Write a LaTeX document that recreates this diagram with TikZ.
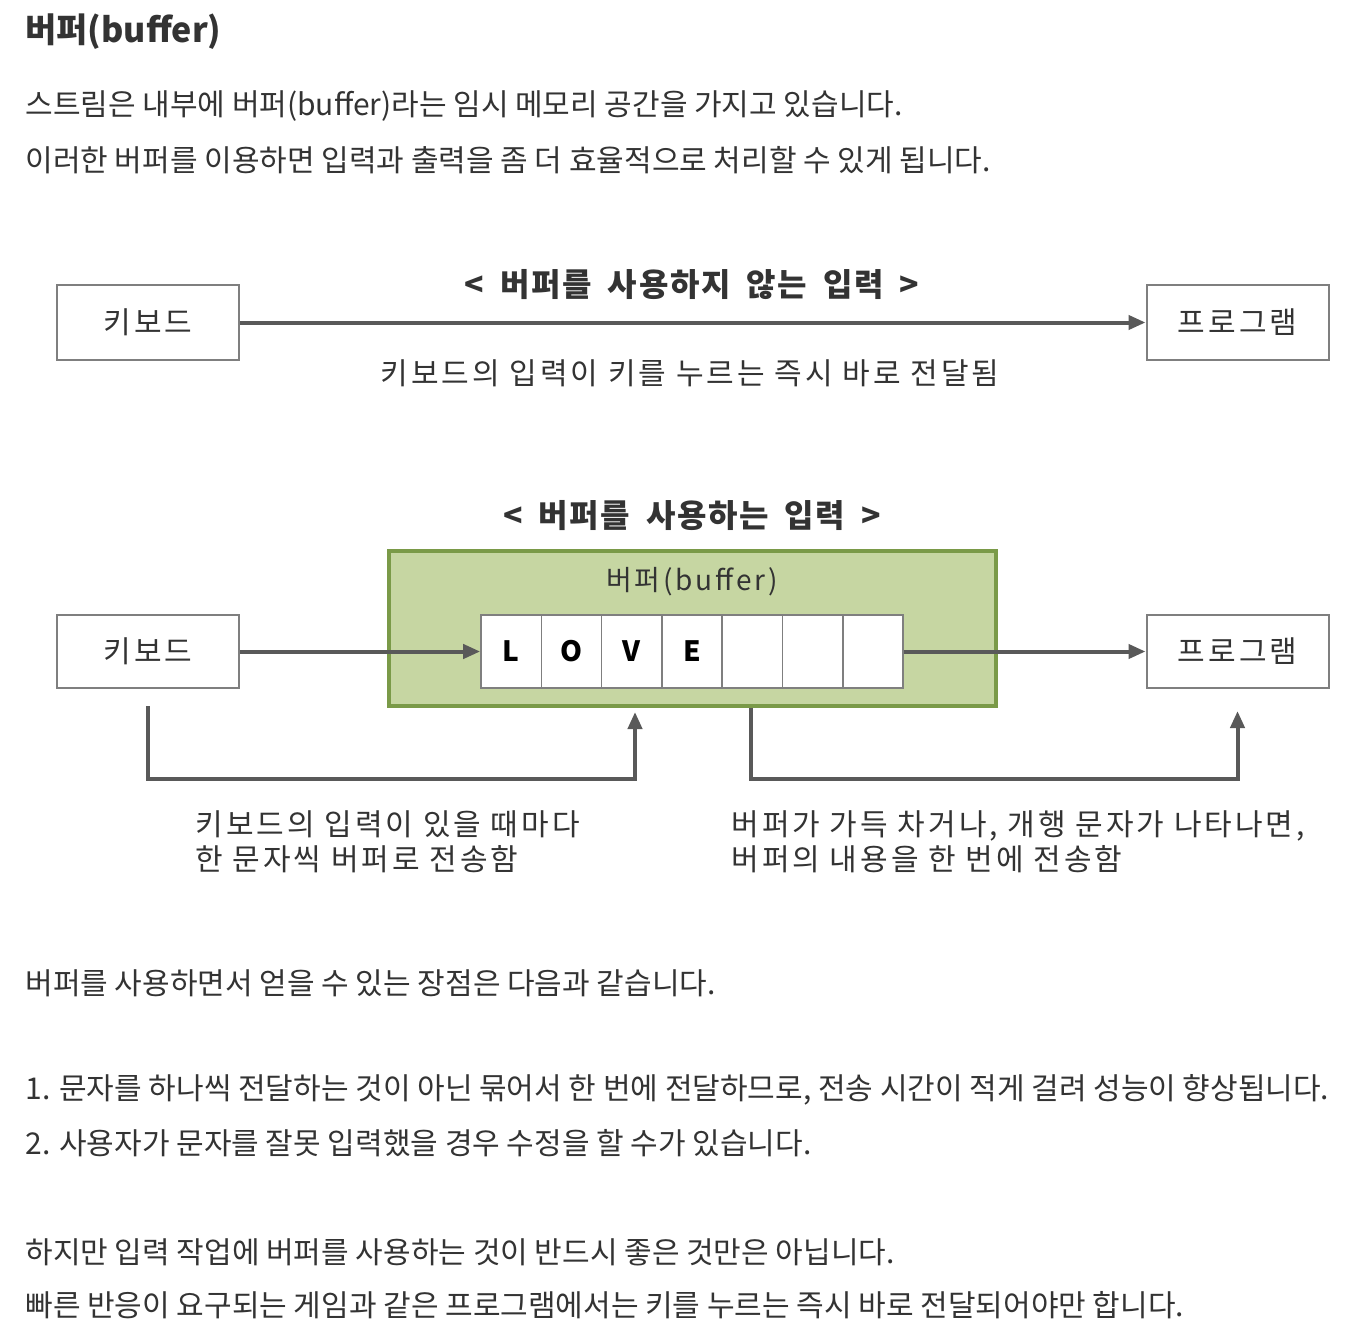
\documentclass[tikz,border=0pt]{standalone}
\usepackage{fontspec}
\setmainfont{Noto Sans CJK KR}
\newfontfamily\diagfont[LetterSpace=10]{Noto Sans CJK KR}
\newfontfamily\capfont[LetterSpace=5, WordSpace=1.8]{Noto Sans CJK KR}
\usetikzlibrary{arrows.meta}
\definecolor{txt}{HTML}{333333}
\definecolor{boxline}{HTML}{7F7F7F}
\definecolor{arrowgray}{HTML}{595959}
\definecolor{buffill}{HTML}{C6D6A2}
\definecolor{bufline}{HTML}{7A9A48}
\begin{document}
\begin{tikzpicture}[x=0.5pt, y=-0.5pt,
  body/.style={anchor=west, inner sep=0pt, text=txt, font=\fontsize{15}{18}\selectfont},
  heading/.style={anchor=west, inner sep=0pt, text=txt, font=\fontsize{17}{20}\selectfont\bfseries},
  caption/.style={inner sep=0pt, text=txt, font=\capfont\fontsize{16}{19}\selectfont\bfseries},
  note/.style={inner sep=0pt, text=txt, font=\diagfont\fontsize{15}{17.5}\selectfont},
  box/.style={draw=boxline, line width=1pt, fill=white, minimum width=91pt, inner sep=0pt, text=txt, font=\diagfont\fontsize{15}{18}\selectfont},
  cellbox/.style={draw=boxline, line width=0.8pt, fill=white, minimum width=30.15pt, minimum height=36.5pt, inner sep=0pt, font=\fontsize{14}{17}\selectfont\bfseries},
  flow/.style={draw=arrowgray, line width=2pt, -{Triangle[length=8.5pt, width=7pt]}},
  link/.style={draw=arrowgray, line width=2pt}]
  \useasboundingbox[fill=white] (0,0) rectangle (1358,1338);
  \node[heading] (title) at (25,32) {버퍼(buffer)};
  \node[body] (line1) at (25,106) {스트림은 내부에 버퍼(buffer)라는 임시 메모리 공간을 가지고 있습니다.};
  \node[body] (line2) at (25,160) {이러한 버퍼를 이용하면 입력과 출력을 좀 더 효율적으로 처리할 수 있게 됩니다.};
  % without buffer
  \node[caption] (cap1) at (692,285) {< 버퍼를 사용하지 않는 입력 >};
  \node[box, minimum height=37.5pt] (key1) at (148,322.5) {키보드};
  \node[box, minimum height=37.5pt] (prog1) at (1237.5,322.5) {프로그램};
  \draw[flow] (key1) -- (prog1);
  \node[note] (note1) at (690,373) {키보드의 입력이 키를 누르는 즉시 바로 전달됨};
  % with buffer
  \node[caption] (cap2) at (692,516) {< 버퍼를 사용하는 입력 >};
  \node[draw=bufline, fill=buffill, line width=2pt, minimum width=303.5pt, minimum height=77.5pt] (buf) at (692.5,628.5) {};
  \node[note, font=\diagfont\fontsize{14}{17}\selectfont] (buflabel) at (692,582) {버퍼(buffer)};
  \foreach \ch [count=\i] in {L,O,V,E,,,} {
    \node[cellbox] (cell\i) at (511.15+60.3*\i-60.3,651.5) {\ch};
  }
  \node[box, minimum height=36.5pt] (key2) at (148,651.5) {키보드};
  \node[box, minimum height=36.5pt] (prog2) at (1237.5,651.5) {프로그램};
  \draw[flow] (key2) -- (cell1);
  \draw[flow] (cell7) -- (prog2);
  \coordinate (turn1) at (635,779);
  \coordinate (turn2) at (751,779);
  \draw[flow] ([yshift=-8.5pt]key2.south) |- (turn1) -- ([yshift=-2pt]buf.south -| turn1);
  \draw[flow] (buf.south -| turn2) -- (turn2) -| ([yshift=-11pt]prog2.south);
  \node[note, anchor=north west, align=left] (note2) at (195,810) {키보드의 입력이 있을 때마다\\한 문자씩 버퍼로 전송함};
  \node[note, anchor=north west, align=left] (note3) at (731,810) {버퍼가 가득 차거나, 개행 문자가 나타나면,\\버퍼의 내용을 한 번에 전송함};
  % text below
  \node[body] (line3) at (25,983) {버퍼를 사용하면서 얻을 수 있는 장점은 다음과 같습니다.};
  \node[body] (line4) at (25,1090) {1. 문자를 하나씩 전달하는 것이 아닌 묶어서 한 번에 전달하므로, 전송 시간이 적게 걸려 성능이 향상됩니다.};
  \node[body] (line5) at (25,1143) {2. 사용자가 문자를 잘못 입력했을 경우 수정을 할 수가 있습니다.};
  \node[body] (line6) at (25,1252) {하지만 입력 작업에 버퍼를 사용하는 것이 반드시 좋은 것만은 아닙니다.};
  \node[body] (line7) at (25,1305) {빠른 반응이 요구되는 게임과 같은 프로그램에서는 키를 누르는 즉시 바로 전달되어야만 합니다.};
\end{tikzpicture}
\end{document}
